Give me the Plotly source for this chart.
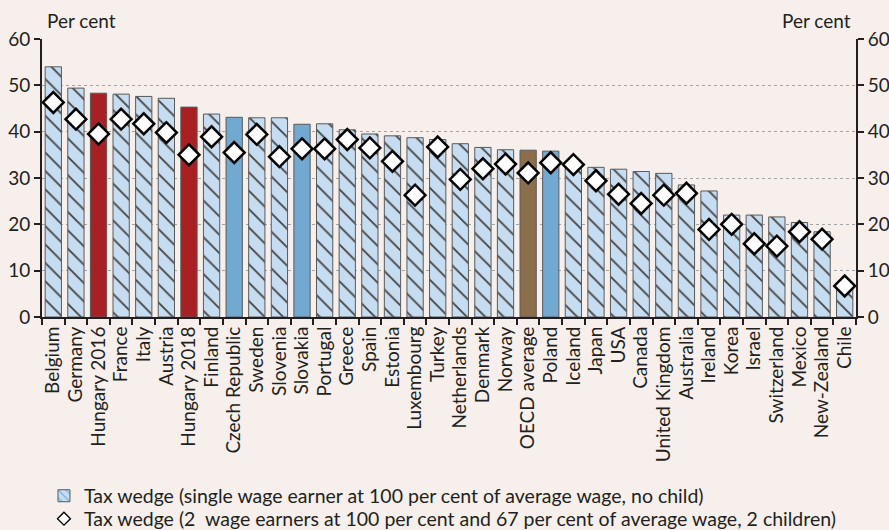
import plotly.graph_objects as go

countries = ["Belgium", "Germany", "Hungary 2016", "France", "Italy", "Austria", "Hungary 2018",
             "Finland", "Czech Republic", "Sweden", "Slovenia", "Slovakia", "Portugal", "Greece",
             "Spain", "Estonia", "Luxembourg", "Turkey", "Netherlands", "Denmark", "Norway",
             "OECD average", "Poland", "Iceland", "Japan", "USA", "Canada", "United Kingdom",
             "Australia", "Ireland", "Korea", "Israel", "Switzerland", "Mexico", "New-Zealand", "Chile"]

single_earner = [54.0, 49.4, 48.3, 48.1, 47.6, 47.2, 45.3, 43.8, 43.1, 43.0, 43.0, 41.6, 41.7, 40.4,
                 39.5, 39.1, 38.7, 38.3, 37.4, 36.6, 36.1, 36.0, 35.8, 33.2, 32.3, 31.9, 31.4, 31.0,
                 28.5, 27.2, 22.0, 22.0, 21.6, 20.4, 18.4, 7.0]

two_earners = [46.3, 42.7, 39.5, 42.7, 41.7, 39.8, 35.0, 38.9, 35.5, 39.4, 34.6, 36.3, 36.3, 38.3,
               36.5, 33.6, 26.3, 36.7, 29.7, 32.0, 33.0, 31.1, 33.3, 32.9, 29.4, 26.5, 24.5, 26.3,
               26.7, 18.9, 20.0, 15.8, 15.3, 18.4, 16.8, 6.7]

highlight = {"Hungary 2016": "#A81F24", "Hungary 2018": "#A81F24",
             "Czech Republic": "#71A9D0", "Slovakia": "#71A9D0", "Poland": "#71A9D0",
             "OECD average": "#8C6E4B"}

legend_bar = "Tax wedge (single wage earner at 100 per cent of average wage, no child)"
legend_dia = "Tax wedge (2  wage earners at 100 per cent and 67 per cent of average wage, 2 children)"

BG = "#F6EFEC"
LIGHT = "#C6DCF0"
HATCH = "#6AAAD9"
INK = "#231F20"
FONT = "Lato"
FS = 19
LFS = 19.5

colors = [highlight.get(c, LIGHT) for c in countries]
shapes_pat = ["" if c in highlight else "\\" for c in countries]
hatch_cols = [HATCH for _ in countries]

fig = go.Figure()
fig.add_trace(go.Bar(
    x=countries, y=single_earner, width=0.72,
    marker=dict(color=colors, line=dict(color="#5a5a5a", width=1),
                pattern=dict(shape=shapes_pat, fgcolor=hatch_cols, bgcolor=colors, fgopacity=1,
                             size=13, solidity=0.14, fillmode="overlay")),
    showlegend=False, name=legend_bar))
fig.add_trace(go.Scatter(
    x=countries, y=two_earners, mode="markers",
    marker=dict(symbol="diamond", size=16, color="white", line=dict(color="black", width=2.5)),
    showlegend=False, name=legend_dia))

# legend-only entries
fig.add_trace(go.Bar(x=[countries[0]], y=[None], name=legend_bar, legend="legend",
                     marker=dict(color=[LIGHT], line=dict(color="#5a5a5a", width=1),
                                 pattern=dict(shape=["\\"], fgcolor=[HATCH], bgcolor=[LIGHT], fgopacity=1,
                                              size=7, solidity=0.2, fillmode="overlay"))))
fig.add_trace(go.Scatter(x=[countries[0]], y=[None], mode="markers", name=legend_dia, legend="legend2",
                         marker=dict(symbol="diamond", size=10, color="white", line=dict(color="black", width=1.3))))
# right axis companion
fig.add_trace(go.Scatter(x=[countries[0]], y=[None], yaxis="y2", showlegend=False, hoverinfo="skip"))

axis_common = dict(ticks="outside", ticklen=6, tickwidth=2, tickcolor=INK, showline=True,
                   linecolor=INK, linewidth=2, automargin=False, tickfont=dict(size=FS))

legend_common = dict(x=0.0024, xanchor="left", yanchor="top", bgcolor="rgba(0,0,0,0)",
                     font=dict(size=LFS), itemwidth=30)

fig.update_layout(
    width=889, height=530,
    paper_bgcolor=BG, plot_bgcolor=BG,
    margin=dict(l=42, r=33, t=39, b=213, autoexpand=False),
    barmode="overlay",
    font=dict(family=FONT, size=FS, color=INK),
    xaxis=dict(type="category", range=[-0.5, len(countries) - 0.5], tickangle=-90,
               tickmode="array", tickvals=countries, ticktext=countries,
               tickson="boundaries", showgrid=False, **axis_common),
    yaxis=dict(range=[0, 60], dtick=10, showgrid=True, gridcolor="#A3A3A3", griddash="dot",
               gridwidth=1.3, zeroline=False, **axis_common),
    yaxis2=dict(range=[0, 60], dtick=10, overlaying="y", side="right", showgrid=False,
                zeroline=False, **axis_common),
    legend=dict(y=-0.574, **legend_common),
    legend2=dict(y=-0.6565, **legend_common),
    annotations=[
        dict(text="Per cent", xref="paper", yref="paper", x=0.004, y=1.068, xanchor="left",
             yanchor="middle", showarrow=False, font=dict(size=FS)),
        dict(text="Per cent", xref="paper", yref="paper", x=0.9963, y=1.068, xanchor="right",
             yanchor="middle", showarrow=False, font=dict(size=FS)),
    ],
)

fig.write_html(
    "out.html",
    config={"displayModeBar": False},
    post_script="document.body.style.margin='0';document.body.style.background='%s';" % BG,
)
